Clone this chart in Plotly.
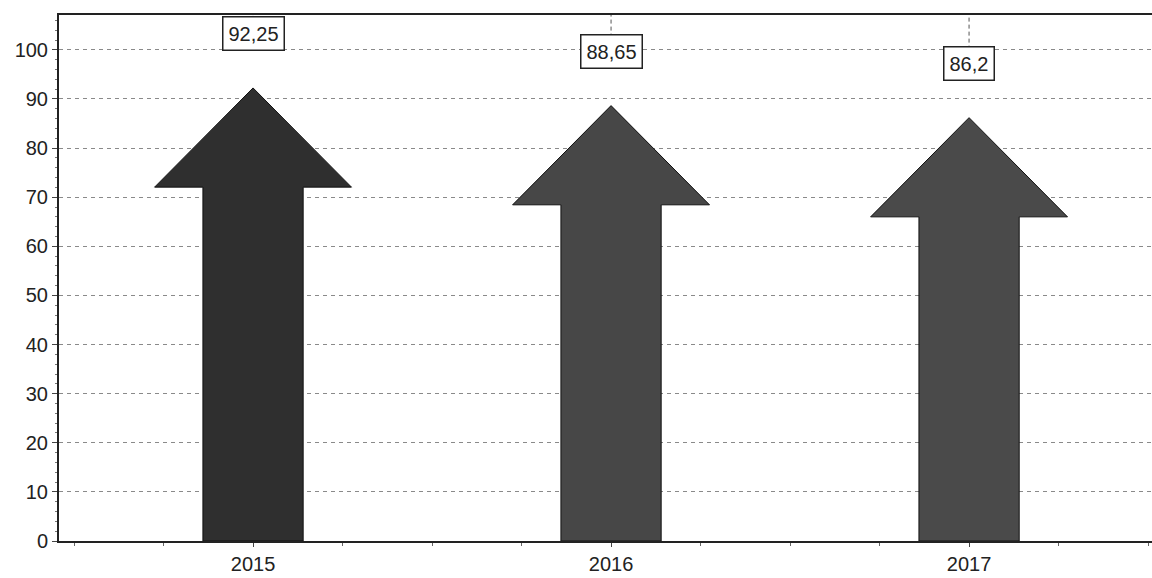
import plotly.graph_objects as go

# Data
years = ["2015", "2016", "2017"]
values = [92.25, 88.65, 86.2]
value_labels = ["92,25", "88,65", "86,2"]
arrow_colors = ["#2f2f2f", "#474747", "#4a4a4a"]
y_ticks = [0, 10, 20, 30, 40, 50, 60, 70, 80, 90, 100]

# Arrow geometry (in axis units)
SHAFT_HALF = 0.14
HEAD_HALF = 0.275
HEAD_LEN = 20.2
LABEL_GAP = 11.0
Y_MAX = 107.1

fig = go.Figure()

for i, (v, c) in enumerate(zip(values, arrow_colors)):
    base = v - HEAD_LEN
    xs = [i - SHAFT_HALF, i - SHAFT_HALF, i - HEAD_HALF, i, i + HEAD_HALF,
          i + SHAFT_HALF, i + SHAFT_HALF, i - SHAFT_HALF]
    ys = [0, base, base, v, base, base, 0, 0]
    fig.add_trace(go.Scatter(
        x=xs, y=ys, mode="lines", fill="toself", fillcolor=c,
        line=dict(color="#111111", width=1), hoverinfo="skip",
        showlegend=False,
    ))

# Value labels with leader lines up to the top border
for i, (v, t) in enumerate(zip(values, value_labels)):
    ly = v + LABEL_GAP
    fig.add_shape(type="line", xref="x", yref="y", x0=i, x1=i, y0=ly, y1=Y_MAX,
                  line=dict(color="#555555", width=1, dash="4px,3px"))
    fig.add_annotation(
        x=i, y=ly, xref="x", yref="y", text=t, showarrow=False,
        font=dict(family="Arial", size=20, color="#222222"),
        bgcolor="#ffffff", bordercolor="#222222", borderwidth=1.5, borderpad=5,
    )

fig.update_layout(
    width=1152, height=578,
    margin=dict(l=59, r=0, t=15, b=37),
    paper_bgcolor="#ffffff", plot_bgcolor="#ffffff",
    font=dict(family="Arial", size=19, color="#222222"),
    xaxis=dict(
        range=[-0.542, 2.511],
        tickmode="array", tickvals=[0, 1, 2], ticktext=years,
        showgrid=False, zeroline=False,
        showline=True, linecolor="#222222", linewidth=2, mirror=True,
        ticks="outside", ticklen=4, tickcolor="#444444",
        minor=dict(tickmode="linear", tick0=0, dtick=0.25, ticks="outside",
                   ticklen=3, tickcolor="#666666", showgrid=False),
        tickfont=dict(family="Arial", size=20, color="#222222"),
    ),
    yaxis=dict(
        range=[0, Y_MAX],
        tickmode="array", tickvals=y_ticks,
        showgrid=True, gridcolor="#8a8a8a", gridwidth=1, griddash="4px,4px",
        zeroline=False,
        showline=True, linecolor="#222222", linewidth=2, mirror=False,
        ticks="outside", ticklen=5, tickcolor="#444444",
        minor=dict(tickmode="linear", tick0=0, dtick=2, ticks="outside",
                   ticklen=2, tickcolor="#777777", showgrid=False),
        tickfont=dict(family="Arial", size=20, color="#222222"),
    ),
)

fig.write_html("out.html")
